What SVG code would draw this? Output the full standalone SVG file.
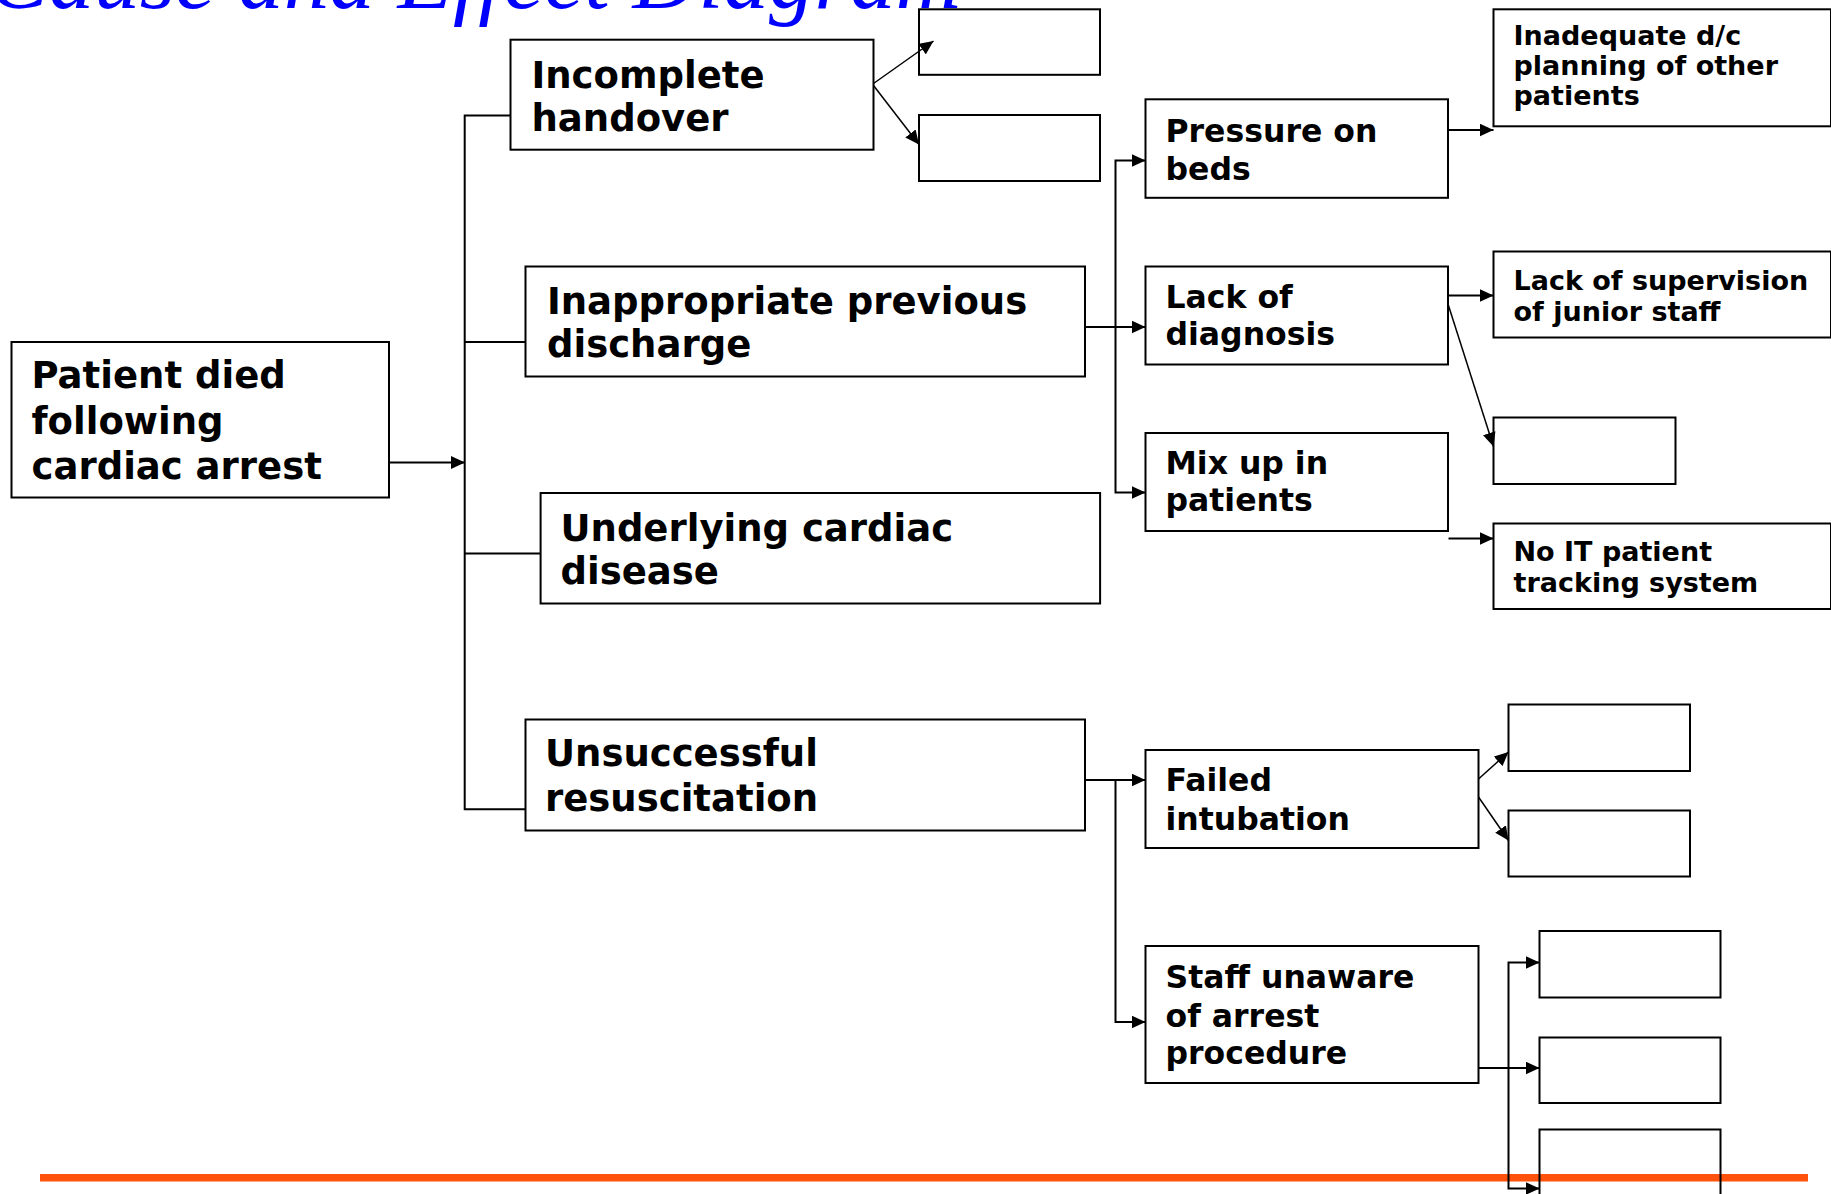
<svg xmlns="http://www.w3.org/2000/svg" width="1831" height="1194" viewBox="0 0 1831 1194">
  <defs>
    <style>
      .box { fill: none; stroke: #000; stroke-width: 2; }
      .lbl { font-family: "DejaVu Sans", Verdana, sans-serif; font-weight: bold; fill: #000; }
      .t1 { font-size: 37px; }
      .t2 { font-size: 31.5px; }
      .t3 { font-size: 27px; }
      .ln { fill: none; stroke: #000; stroke-width: 2; }
      .dg { fill: none; stroke: #000; stroke-width: 1.5; }
      .title { font-family: "Liberation Serif", "Times New Roman", serif; font-style: italic; font-size: 91px; fill: #0000ff; }
    </style>
    <marker id="arrow" markerUnits="userSpaceOnUse" markerWidth="15" markerHeight="13" refX="14" refY="6.5" orient="auto">
      <path d="M0,0 L14,6.5 L0,13 z" fill="#000"/>
    </marker>
  </defs>

  <rect width="1831" height="1194" fill="#fff"/>

  <!-- slide title (clipped by the top edge) -->
  <text class="title" x="-12" y="8">Cause and Effect Diagram</text>

  <!-- footer rule -->
  <rect x="40" y="1174" width="1768" height="7.5" fill="#ff520c"/>

  <!-- effect -->
  <g id="effect">
    <rect class="box" x="11.5" y="342" width="377.5" height="155.5"/>
    <text class="lbl t1" x="31.5" y="388">Patient died</text>
    <text class="lbl t1" x="31.5" y="433.5">following</text>
    <text class="lbl t1" x="31.5" y="479">cardiac arrest</text>
  </g>

  <!-- primary causes -->
  <g id="incomplete-handover">
    <rect class="box" x="510.5" y="39.7" width="363" height="110"/>
    <text class="lbl t1" x="531.5" y="87.5">Incomplete</text>
    <text class="lbl t1" x="531.5" y="131">handover</text>
  </g>
  <g id="inappropriate-discharge">
    <rect class="box" x="525.5" y="266.5" width="559.5" height="110"/>
    <text class="lbl t1" x="547" y="313.5">Inappropriate previous</text>
    <text class="lbl t1" x="547" y="357">discharge</text>
  </g>
  <g id="underlying-disease">
    <rect class="box" x="540.6" y="493" width="559.5" height="110.5"/>
    <text class="lbl t1" x="560.5" y="540.5">Underlying cardiac</text>
    <text class="lbl t1" x="560.5" y="584">disease</text>
  </g>
  <g id="unsuccessful-resuscitation">
    <rect class="box" x="525.5" y="719.5" width="559.5" height="111"/>
    <text class="lbl t1" x="545" y="766">Unsuccessful</text>
    <text class="lbl t1" x="545" y="811">resuscitation</text>
  </g>

  <!-- handover sub-causes (blank) -->
  <g id="handover-a"><rect class="box" x="919" y="9.3" width="181" height="65.5"/></g>
  <g id="handover-b"><rect class="box" x="919" y="115" width="181" height="66"/></g>

  <!-- discharge sub-causes -->
  <g id="pressure-on-beds">
    <rect class="box" x="1145.5" y="99.3" width="302.5" height="98.5"/>
    <text class="lbl t2" x="1165.5" y="142">Pressure on</text>
    <text class="lbl t2" x="1165.5" y="179.5">beds</text>
  </g>
  <g id="lack-of-diagnosis">
    <rect class="box" x="1145.5" y="266.5" width="302.5" height="98"/>
    <text class="lbl t2" x="1165.5" y="307.5">Lack of</text>
    <text class="lbl t2" x="1165.5" y="345">diagnosis</text>
  </g>
  <g id="mix-up">
    <rect class="box" x="1145.5" y="433" width="302.5" height="98"/>
    <text class="lbl t2" x="1165.5" y="473.5">Mix up in</text>
    <text class="lbl t2" x="1165.5" y="511">patients</text>
  </g>

  <!-- root causes -->
  <g id="inadequate-planning">
    <rect class="box" x="1493.5" y="9.3" width="337.5" height="117"/>
    <text class="lbl t3" x="1513.5" y="44.5">Inadequate d/c</text>
    <text class="lbl t3" x="1513.5" y="74.5">planning of other</text>
    <text class="lbl t3" x="1513.5" y="104.5">patients</text>
  </g>
  <g id="lack-of-supervision">
    <rect class="box" x="1493.5" y="251.5" width="337.5" height="86"/>
    <text class="lbl t3" x="1513.5" y="290">Lack of supervision</text>
    <text class="lbl t3" x="1513.5" y="320.5">of junior staff</text>
  </g>
  <g id="diagnosis-other"><rect class="box" x="1493.5" y="417.5" width="182" height="66.5"/></g>
  <g id="no-it-tracking">
    <rect class="box" x="1493.5" y="523.5" width="337.5" height="85.5"/>
    <text class="lbl t3" x="1513.5" y="560.5">No IT patient</text>
    <text class="lbl t3" x="1513.5" y="591.5">tracking system</text>
  </g>

  <!-- resuscitation sub-causes -->
  <g id="failed-intubation">
    <rect class="box" x="1145.5" y="750" width="333" height="98"/>
    <text class="lbl t2" x="1165.5" y="790.5">Failed</text>
    <text class="lbl t2" x="1165.5" y="829.5">intubation</text>
  </g>
  <g id="staff-unaware">
    <rect class="box" x="1145.5" y="946" width="333" height="137"/>
    <text class="lbl t2" x="1165.5" y="988">Staff unaware</text>
    <text class="lbl t2" x="1165.5" y="1026.5">of arrest</text>
    <text class="lbl t2" x="1165.5" y="1064">procedure</text>
  </g>
  <g id="intubation-a"><rect class="box" x="1508.5" y="704.5" width="181.5" height="66.5"/></g>
  <g id="intubation-b"><rect class="box" x="1508.5" y="810.5" width="181.5" height="66"/></g>
  <g id="procedure-a"><rect class="box" x="1539.5" y="931" width="181" height="66.5"/></g>
  <g id="procedure-b"><rect class="box" x="1539.5" y="1037.5" width="181" height="65.5"/></g>
  <g id="procedure-c"><rect class="box" x="1539.5" y="1129.5" width="181" height="80"/></g>

  <!-- connectors -->
  <g id="connectors">
    <line class="ln" x1="389" y1="462.5" x2="465" y2="462.5" marker-end="url(#arrow)"/>
    <path class="ln" d="M510.5,115.6 H464.7 V809.2 H525.5"/>
    <path class="ln" d="M464.7,342 H525.5"/>
    <path class="ln" d="M464.7,553.5 H540.6"/>

    <line class="dg" x1="873.5" y1="83.5" x2="933.5" y2="41" marker-end="url(#arrow)"/>
    <line class="dg" x1="873.5" y1="85.5" x2="919" y2="144.5" marker-end="url(#arrow)"/>

    <line class="ln" x1="1085" y1="327" x2="1145.5" y2="327" marker-end="url(#arrow)"/>
    <path class="ln" d="M1115.5,327 V160.5 H1145.5" marker-end="url(#arrow)"/>
    <path class="ln" d="M1115.5,327 V492.5 H1145.5" marker-end="url(#arrow)"/>

    <line class="ln" x1="1448" y1="130" x2="1493.5" y2="130" marker-end="url(#arrow)"/>
    <line class="ln" x1="1448" y1="295.5" x2="1493.5" y2="295.5" marker-end="url(#arrow)"/>
    <line class="dg" x1="1448" y1="304" x2="1493.5" y2="446.5" marker-end="url(#arrow)"/>
    <line class="ln" x1="1448.5" y1="538.5" x2="1493.5" y2="538.5" marker-end="url(#arrow)"/>

    <line class="ln" x1="1085" y1="780" x2="1145.5" y2="780" marker-end="url(#arrow)"/>
    <path class="ln" d="M1115.5,780 V1022 H1145.5" marker-end="url(#arrow)"/>

    <line class="dg" x1="1478.5" y1="779" x2="1508.5" y2="752" marker-end="url(#arrow)"/>
    <line class="dg" x1="1478.5" y1="797" x2="1508.5" y2="840.5" marker-end="url(#arrow)"/>

    <line class="ln" x1="1478.5" y1="1068" x2="1539.5" y2="1068" marker-end="url(#arrow)"/>
    <path class="ln" d="M1508.5,1068 V962.5 H1539.5" marker-end="url(#arrow)"/>
    <path class="ln" d="M1508.5,1068 V1188.5 H1539.5" marker-end="url(#arrow)"/>
  </g>
</svg>
